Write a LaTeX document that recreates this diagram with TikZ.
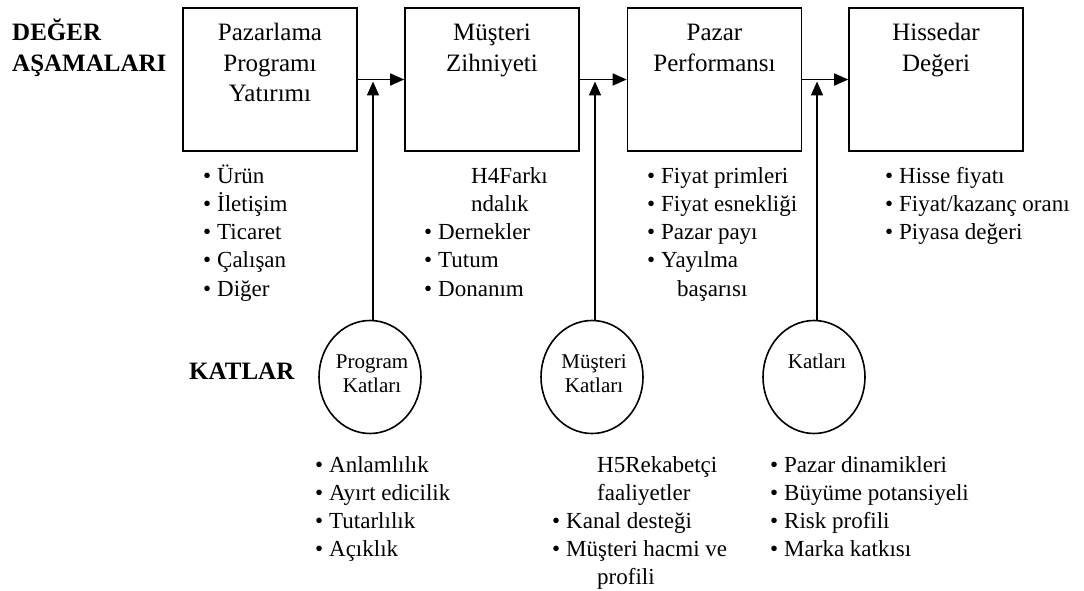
\documentclass[tikz,border=0pt]{standalone}
\usepackage{fontspec}
\setmainfont{Liberation Serif}
\usetikzlibrary{arrows.meta,shapes.geometric}
\tikzset{
  stagebox/.style={draw, line width=1.6pt, minimum width=174pt, minimum height=143pt, inner sep=0pt},
  multell/.style={draw, ellipse, line width=1.6pt, minimum width=102pt, minimum height=113pt, inner sep=0pt},
  boxtxt/.style={font=\fontsize{25}{31}\selectfont, anchor=base, inner sep=0pt},
  lst/.style={font=\fontsize{23}{28}\selectfont, anchor=base west, inner sep=0pt},
  ctxt/.style={font=\fontsize{21}{24}\selectfont, anchor=base, inner sep=0pt},
  lbl/.style={font=\bfseries\fontsize{25}{31}\selectfont, anchor=base west, inner sep=0pt},
  flow/.style={line width=1.6pt, -{Triangle[length=14pt,width=12pt]}},
  plain/.style={line width=1.6pt},
}
\newcommand{\blt}{\llap{•\hspace{6pt}}}
\begin{document}
\begin{tikzpicture}[x=1pt,y=-1pt]
\useasboundingbox (0,0) rectangle (1084,591);
\fill[white] (0,0) rectangle (1084,591);

% side labels
\node[lbl] (v1) at (12,41) {DEĞER};
\node[lbl] (v2) at (12,72) {AŞAMALARI};
\node[lbl] (k1) at (189,379) {KATLAR};

% stage boxes
\node[stagebox] (b1) at (270,79.5) {};
\node[stagebox] (b2) at (492,79.5) {};
\node[stagebox] (b3) at (714.5,79.5) {};
\node[stagebox] (b4) at (936,79.5) {};

\node[boxtxt] (b1a) at (270,41) {Pazarlama};
\node[boxtxt] (b1b) at (270,72) {Programı};
\node[boxtxt] (b1c) at (270,102) {Yatırımı};
\node[boxtxt] (b2a) at (492,41) {Müşteri};
\node[boxtxt] (b2b) at (492,72) {Zihniyeti};
\node[boxtxt] (b3a) at (714.5,41) {Pazar};
\node[boxtxt] (b3b) at (714.5,72) {Performansı};
\node[boxtxt] (b4a) at (936,41) {Hissedar};
\node[boxtxt] (b4b) at (936,72) {Değeri};

% flow arrows
\draw[flow] (b1) -- (b2);
\draw[flow] (b2) -- (b3);
\draw[flow] (b3) -- (b4);

% multiplier ellipses
\node[multell] (c1) at (370,377) {};
\node[multell] (c2) at (592,377) {};
\node[multell] (c3) at (814,377) {};
\node[ctxt] (c1a) at (372,368) {Program};
\node[ctxt] (c1b) at (372,392) {Katları};
\node[ctxt] (c2a) at (594,368) {Müşteri};
\node[ctxt] (c2b) at (594,392) {Katları};
\node[ctxt] (c3a) at (817,368) {Katları};

\coordinate (j1) at (373,81.5);
\coordinate (j2) at (595,81.5);
\coordinate (j3) at (817,81.5);
\draw[flow] (c1.north -| j1) -- (j1);
\draw[flow] (c2.north -| j2) -- (j2);
\draw[flow] (c3.north -| j3) -- (j3);

% lists under stages
\node[lst] (l1a) at (217,183) {\blt Ürün};
\node[lst] (l1b) at (217,211.25) {\blt İletişim};
\node[lst] (l1c) at (217,239.5) {\blt Ticaret};
\node[lst] (l1d) at (217,267.75) {\blt Çalışan};
\node[lst] (l1e) at (217,296) {\blt Diğer};

\node[lst] (l2a) at (471,183) {H4Farkı};
\node[lst] (l2b) at (471,211.25) {ndalık};
\node[lst] (l2c) at (438,239.5) {\blt Dernekler};
\node[lst] (l2d) at (438,267.75) {\blt Tutum};
\node[lst] (l2e) at (438,296) {\blt Donanım};

\node[lst] (l3a) at (661,183) {\blt Fiyat primleri};
\node[lst] (l3b) at (661,211.25) {\blt Fiyat esnekliği};
\node[lst] (l3c) at (661,239.5) {\blt Pazar payı};
\node[lst] (l3d) at (661,267.75) {\blt Yayılma};
\node[lst] (l3e) at (677,296) {başarısı};

\node[lst] (l4a) at (899,183) {\blt Hisse fiyatı};
\node[lst] (l4b) at (899,211.25) {\blt Fiyat/kazanç oranı};
\node[lst] (l4c) at (899,239.5) {\blt Piyasa değeri};

% lists under multipliers
\node[lst] (m1a) at (329,472) {\blt Anlamlılık};
\node[lst] (m1b) at (329,500) {\blt Ayırt edicilik};
\node[lst] (m1c) at (329,528) {\blt Tutarlılık};
\node[lst] (m1d) at (329,556) {\blt Açıklık};

\node[lst] (m2a) at (597,472) {H5Rekabetçi};
\node[lst] (m2b) at (597,500) {faaliyetler};
\node[lst] (m2c) at (566,528) {\blt Kanal desteği};
\node[lst] (m2d) at (566,556) {\blt Müşteri hacmi ve};
\node[lst] (m2e) at (597,584) {profili};

\node[lst] (m3a) at (784,472) {\blt Pazar dinamikleri};
\node[lst] (m3b) at (784,500) {\blt Büyüme potansiyeli};
\node[lst] (m3c) at (784,528) {\blt Risk profili};
\node[lst] (m3d) at (784,556) {\blt Marka katkısı};
\end{tikzpicture}
\end{document}
